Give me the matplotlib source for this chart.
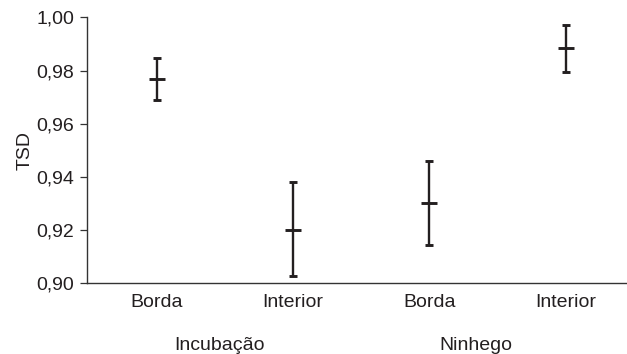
import matplotlib
matplotlib.use("Agg")
import matplotlib.pyplot as plt
from matplotlib.ticker import FixedLocator, FuncFormatter

categories = ["Borda", "Interior", "Borda", "Interior"]
groups = ["Incubação", "Ninhego"]
means = [0.9767, 0.9200, 0.9302, 0.9883]
upper = [0.9846, 0.9380, 0.9459, 0.9970]
lower = [0.9689, 0.9027, 0.9143, 0.9793]
yticks = [0.90, 0.92, 0.94, 0.96, 0.98, 1.00]

plt.rcParams['font.family'] = ['Liberation Sans', 'DejaVu Sans']
fig = plt.figure(figsize=(6.27, 3.54), dpi=100)
ax = fig.add_axes([0.139, 0.2, 0.861, 0.751])

x = list(range(len(categories)))
yerr = [[m - l for m, l in zip(means, lower)], [u - m for m, u in zip(means, upper)]]
col = '#231f20'
ax.errorbar(x, means, yerr=yerr, fmt='_', color=col, ecolor=col, elinewidth=1.7,
            capsize=3.1, capthick=2.2, markersize=11.8, markeredgewidth=2.1)

ax.set_xlim(-0.51, 3.45)
ax.set_ylim(0.90, 1.00)
ax.yaxis.set_major_locator(FixedLocator(yticks))
ax.yaxis.set_major_formatter(FuncFormatter(lambda v, p: f"{v:.2f}".replace('.', ',')))
ax.set_xticks(x)
ax.set_xticklabels(categories)
ax.tick_params(axis='x', length=0, pad=8, labelsize=14, colors='#231f20')
ax.tick_params(axis='y', length=5, width=0.9, color='#333333', labelsize=14, labelcolor='#231f20', pad=4.5)
for s in ['top', 'right']:
    ax.spines[s].set_visible(False)
for s in ['left', 'bottom']:
    ax.spines[s].set_linewidth(1.0)
    ax.spines[s].set_color('#333333')

ax.set_ylabel("TSD", fontsize=14, color='#231f20', labelpad=2)

group_pos = [0.46, 2.34]
for g, gx in zip(groups, group_pos):
    ax.text(gx, -0.235, g, transform=ax.get_xaxis_transform(), ha='center', va='center',
            fontsize=14, color='#231f20')

fig.savefig("out.png", dpi=100)
